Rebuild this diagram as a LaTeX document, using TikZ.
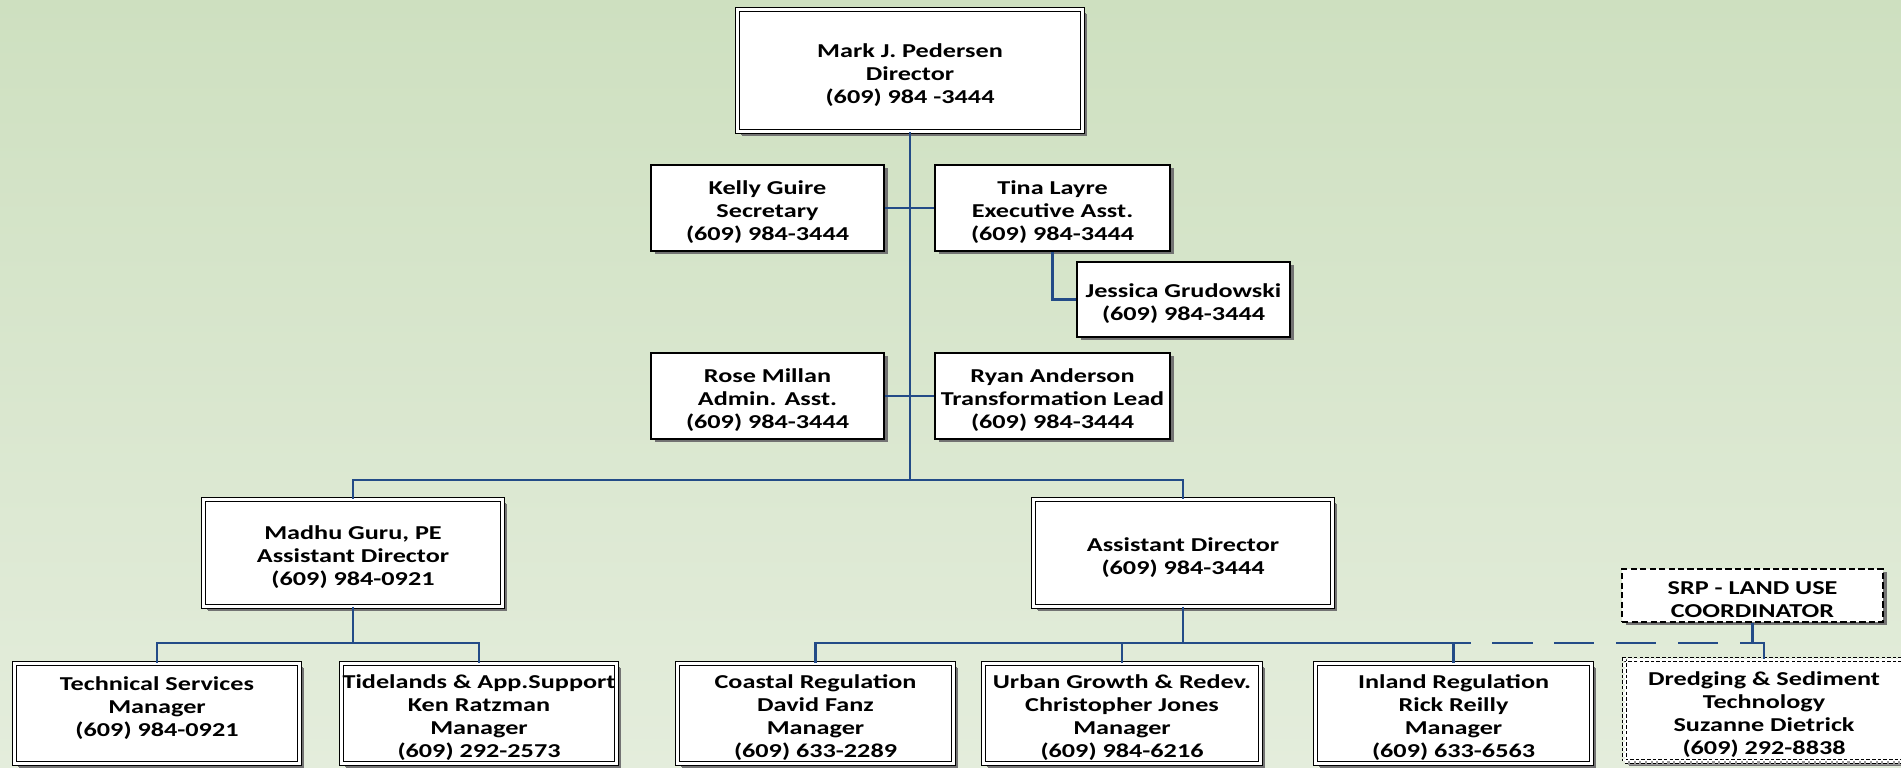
\documentclass[tikz,border=0pt]{standalone}
\usepackage{fontspec}
\setmainfont[FakeStretch=1.33]{Carlito}
\usetikzlibrary{shadows}
\definecolor{bgtop}{RGB}{206,224,192}
\definecolor{bgbot}{RGB}{228,237,220}
\definecolor{lineblue}{RGB}{35,75,135}
\newcommand\orgbox[8]{% style, inset, name, x1, y1, x2, y2, text
  \pgfmathsetmacro\bw{(#6-#4-2*#2)*0.01}%
  \pgfmathsetmacro\bh{(#7-#5-2*#2)*0.01}%
  \node[#1, minimum width=\bw cm, minimum height=\bh cm] (#3) at ({(#4+#6)/2},{(#5+#7)/2}) {};%
  \node[boxtext] (#3-t) at ([yshift=-0.045cm]#3.center) {#8};%
}
\begin{document}
\begin{tikzpicture}[x=0.01cm, y=-0.01cm,
  box/.style={draw=black, line width=0.45pt, fill=white, inner sep=0pt,
    drop shadow={shadow xshift=0.035cm, shadow yshift=-0.035cm, fill=black!55, opacity=1}},
  boxtext/.style={inner sep=0pt, align=center, font=\bfseries\fontsize{5.6pt}{6.54pt}\selectfont},
  dbox/.style={box, line width=0.35pt, double=white, double distance=0.03cm,
    drop shadow={shadow xshift=0.045cm, shadow yshift=-0.045cm, fill=black!55, opacity=1}},
  dashbox/.style={box, dash pattern=on 1.8pt off 0.9pt, drop shadow={opacity=0}},
  ddashbox/.style={dbox, dash pattern=on 1pt off 0.6pt,
    drop shadow={shadow xshift=0.03cm, shadow yshift=-0.03cm, fill=black!40, opacity=1}},
  conn/.style={draw=lineblue, line width=0.75pt},
  dconn/.style={draw=lineblue, line width=0.75pt, dash pattern=on 11.4pt off 6.2pt}]
\useasboundingbox (0,0) rectangle (1901,768);
\shade[top color=bgtop, bottom color=bgbot] (0,0) rectangle (1901,768);

\coordinate (bus1) at (910,480);
\coordinate (bus2) at (353,643);
\coordinate (bus3) at (1183,643);

\orgbox{dbox}{2.5}{dir}{735}{7}{1085}{134}{Mark J. Pedersen\\Director\\(609) 984 -3444}
\orgbox{box}{0}{kelly}{651}{165}{884}{251}{Kelly Guire\\Secretary\\(609) 984-3444}
\orgbox{box}{0}{tina}{935}{165}{1170}{251}{Tina Layre\\Executive Asst.\\(609) 984-3444}
\orgbox{box}{0}{jess}{1077}{262}{1290}{337}{Jessica Grudowski\\(609) 984-3444}
\orgbox{box}{0}{rose}{651}{353}{884}{439}{Rose Millan\\Admin. Asst.\\(609) 984-3444}
\orgbox{box}{0}{ryan}{935}{353}{1170}{439}{Ryan Anderson\\Transformation Lead\\(609) 984-3444}
\orgbox{dbox}{2.5}{madhu}{201}{497}{505}{609}{Madhu Guru, PE\\Assistant Director\\(609) 984-0921}
\orgbox{dbox}{2.5}{ad}{1031}{497}{1335}{609}{Assistant Director\\(609) 984-3444}
\orgbox{dbox}{2.5}{tech}{12}{661}{302}{766}{Technical Services\\Manager\\(609) 984-0921\\\mbox{}}
\orgbox{dbox}{2.5}{tide}{339}{661}{619}{766}{Tidelands \& App.Support\\Ken Ratzman\\Manager\\(609) 292-2573}
\orgbox{dbox}{2.5}{coast}{675}{661}{956}{766}{Coastal Regulation\\David Fanz\\Manager\\(609) 633-2289}
\orgbox{dbox}{2.5}{urban}{981}{661}{1263}{766}{Urban Growth \& Redev.\\Christopher Jones\\Manager\\(609) 984-6216}
\orgbox{dbox}{2.5}{inland}{1313}{661}{1594}{766}{Inland Regulation\\Rick Reilly\\Manager\\(609) 633-6563}
\orgbox{dashbox}{0}{srp}{1622}{569}{1883}{622}{SRP - LAND USE\\COORDINATOR}
\orgbox{ddashbox}{2.5}{dredge}{1622}{657}{1906}{764}{Dredging \& Sediment\\Technology\\Suzanne Dietrick\\(609) 292-8838}

\draw[conn] (dir.south) -- (bus1);
\draw[conn] (kelly.east) -- (tina.west);
\draw[conn] (tina.south) |- (jess.west);
\draw[conn] (rose.east) -- (ryan.west);
\draw[conn] (madhu.north) |- (bus1) -| (ad.north);
\draw[conn] (madhu.south) -- (bus2);
\draw[conn] (tech.north) |- (bus2) -| (tide.north);
\draw[conn] (ad.south) -- (bus3);
\draw[conn] (coast.north) |- (bus3) -| (inland.north);
\draw[conn] (urban.north) -- (urban.north |- bus3);
\draw[dconn] (bus3) -| (dredge.north);
\draw[dconn] (srp.south) -- (srp.south |- bus3);
\end{tikzpicture}
\end{document}
